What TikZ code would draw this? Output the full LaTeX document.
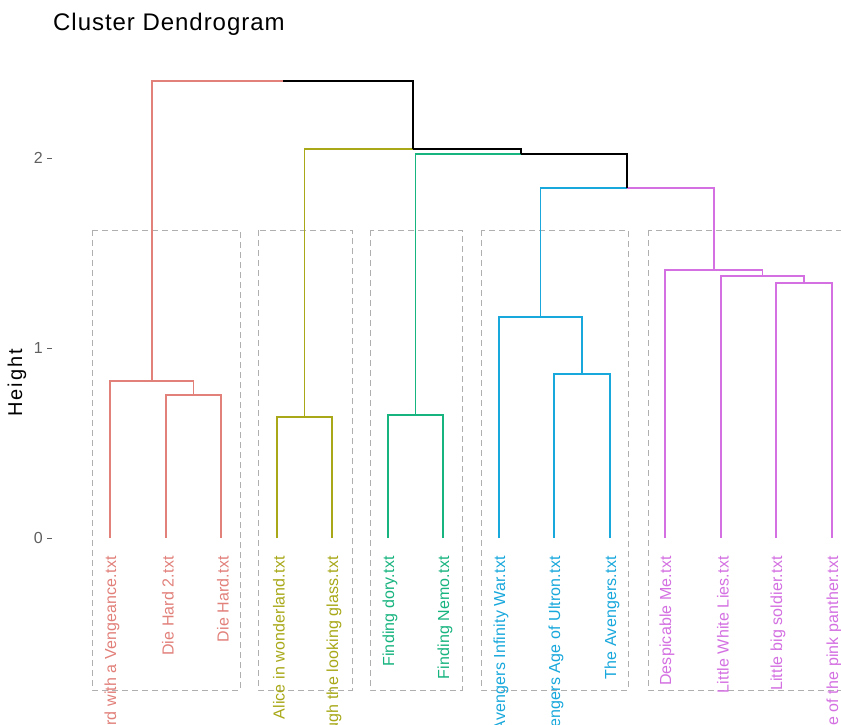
\documentclass[tikz,border=0pt]{standalone}
\usepackage{fontspec}
\setmainfont{Liberation Sans}
\newfontfamily\labfont[LetterSpace=1]{Liberation Sans}
\newfontfamily\htfont[LetterSpace=10]{Liberation Sans}
\newfontfamily\titfont[LetterSpace=4]{Liberation Sans}
\definecolor{cR}{RGB}{226,128,122}
\definecolor{cY}{RGB}{168,168,24}
\definecolor{cG}{RGB}{24,180,128}
\definecolor{cB}{RGB}{24,168,220}
\definecolor{cP}{RGB}{212,112,226}
\definecolor{boxgray}{RGB}{175,175,175}
\definecolor{tickgray}{RGB}{95,95,95}
\tikzset{
  branch/.style={line width=1.3pt},
  leaflab/.style={rotate=90, anchor=east, inner sep=0pt, font=\labfont\fontsize{16}{19}\selectfont},
  clbox/.style={draw=boxgray, line width=0.9pt, dash pattern=on 6pt off 4pt},
  ticklab/.style={anchor=east, inner sep=0pt, text=tickgray, font=\fontsize{16}{19}\selectfont},
  tickmark/.style={draw=tickgray, line width=0.9pt}
}
\begin{document}
\begin{tikzpicture}[x=1pt,y=-1pt]
\useasboundingbox (0,0) rectangle (841,725);
\clip (0,0) rectangle (841,725);
\fill[white] (0,0) rectangle (841,725);

% title and axis
\node[anchor=base west, inner sep=0pt, font=\titfont\fontsize{24}{28}\selectfont] (title) at (53,31) {Cluster Dendrogram};
\node[rotate=90, inner sep=0pt, font=\htfont\fontsize{20}{24}\selectfont] (ylab) at (17,383) {Height};
\foreach \v/\yy in {2/158,1/348,0/538}{
  \node[ticklab] (tick\v) at (43,\yy) {\v};
  \draw[tickmark] (47,\yy) -- (52,\yy);
}

% cluster boxes
\draw[clbox] (92,230) rectangle (240,690);
\draw[clbox] (258,230) rectangle (352,690);
\draw[clbox] (370,230) rectangle (462,690);
\draw[clbox] (481,230) rectangle (628,690);
\draw[clbox] (648,230) rectangle (860,690);

% leaves
\foreach \i/\xx in {1/110,2/166,3/221,4/277,5/332,6/388,7/443,8/499,9/554,10/610,11/665,12/721,13/776,14/832}{
  \coordinate (L\i) at (\xx,538);
}
% merge points
\coordinate (r1) at (193.5,395);
\coordinate (r2) at (152,381);
\coordinate (y1) at (304.5,417);
\coordinate (g1) at (415.5,415);
\coordinate (b1) at (582,374);
\coordinate (b2) at (540.5,317);
\coordinate (p1) at (804,283);
\coordinate (p2) at (762.5,276);
\coordinate (p3) at (714,270);
\coordinate (m1) at (627,188);
\coordinate (m2) at (521,154);
\coordinate (m3) at (413,149);
\coordinate (m4) at (282.5,81);

% red cluster
\draw[branch, cR] (L2) |- (r1) (L3) |- (r1);
\draw[branch, cR] (L1) |- (r2) (r1) |- (r2);
\draw[branch, cR] (r2) |- (m4);
% yellow cluster
\draw[branch, cY] (L4) |- (y1) (L5) |- (y1);
\draw[branch, cY] (y1) |- (m3);
% green cluster
\draw[branch, cG] (L6) |- (g1) (L7) |- (g1);
\draw[branch, cG] (g1) |- (m2);
% blue cluster
\draw[branch, cB] (L9) |- (b1) (L10) |- (b1);
\draw[branch, cB] (L8) |- (b2) (b1) |- (b2);
\draw[branch, cB] (b2) |- (m1);
% pink cluster
\draw[branch, cP] (L13) |- (p1) (L14) |- (p1);
\draw[branch, cP] (L12) |- (p2) (p1) |- (p2);
\draw[branch, cP] (L11) |- (p3) (p2) |- (p3);
\draw[branch, cP] (p3) |- (m1);
% upper (black) links
\draw[branch, black] (m1) |- (m2);
\draw[branch, black] (m2) |- (m3);
\draw[branch, black] (m3) |- (m4);

% labels
\node[leaflab, text=cR] (t1) at (112,556) {Die Hard with a Vengeance.txt};
\node[leaflab, text=cR] (t2) at (168,556) {Die Hard 2.txt};
\node[leaflab, text=cR] (t3) at (223,556) {Die Hard.txt};
\node[leaflab, text=cY] (t4) at (279,556) {Alice in wonderland.txt};
\node[leaflab, text=cY] (t5) at (334,556) {Through the looking glass.txt};
\node[leaflab, text=cG] (t6) at (390,556) {Finding dory.txt};
\node[leaflab, text=cG] (t7) at (445,556) {Finding Nemo.txt};
\node[leaflab, text=cB] (t8) at (501,556) {Avengers Infinity War.txt};
\node[leaflab, text=cB] (t9) at (556,556) {Avengers Age of Ultron.txt};
\node[leaflab, text=cB] (t10) at (612,556) {The Avengers.txt};
\node[leaflab, text=cP] (t11) at (667,556) {Despicable Me.txt};
\node[leaflab, text=cP] (t12) at (723,556) {Little White Lies.txt};
\node[leaflab, text=cP] (t13) at (778,556) {Little big soldier.txt};
\node[leaflab, text=cP] (t14) at (834,556) {Revenge of the pink panther.txt};
\end{tikzpicture}
\end{document}
